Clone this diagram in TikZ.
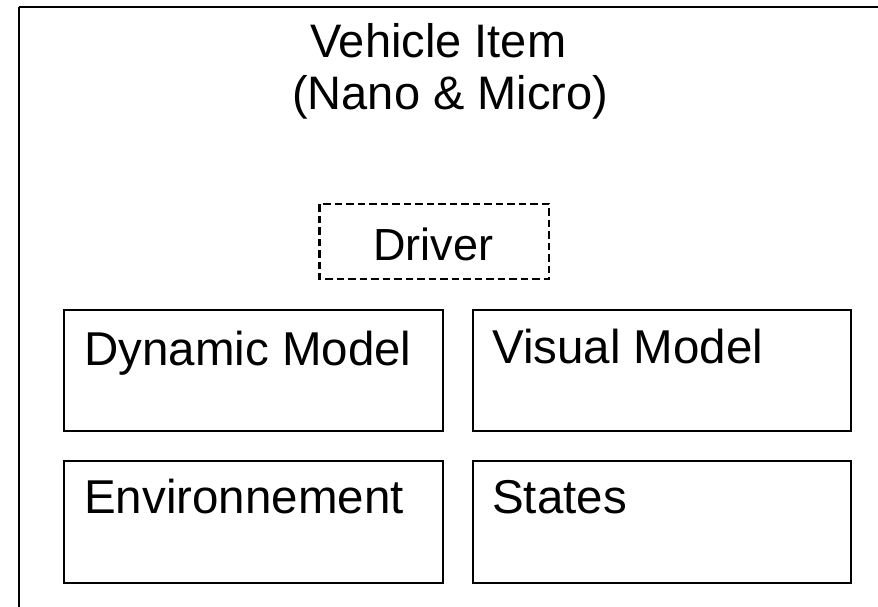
\documentclass[tikz,border=0pt]{standalone}
\usepackage{fontspec}
\setmainfont{Liberation Sans}
\begin{document}
\begin{tikzpicture}[x=1pt,y=-1pt,
  lbl/.style={anchor=base west,inner sep=0pt,font=\fontsize{47.5}{56}\selectfont},
  part/.style={draw=black,line width=2.2pt},
  drv/.style={draw=black,line width=2.8pt,dash pattern=on 7.5pt off 4pt}]
\useasboundingbox (0,0) rectangle (878,607);
\draw[line width=2.5pt] (19,7) -- (890,7);
\draw[line width=2.5pt] (19,7) -- (19,620);
\draw[line width=2.5pt] (19,620) -- (890,620);
\node[lbl,font=\fontsize{47}{56}\selectfont] (t1) at (310,58) {Vehicle Item};
\node[lbl,font=\fontsize{47}{56}\selectfont] (t2) at (292,110) {(Nano \& Micro)};
\draw[drv] (319.5,204) rectangle (549,279);
\node[lbl,font=\fontsize{45}{54}\selectfont] (drv) at (373,260) {Driver};
\draw[part] (64,310) rectangle (443,431);
\node[lbl] (dyn) at (84,365) {Dynamic Model};
\draw[part] (473,310) rectangle (851,431);
\node[lbl] (vis) at (492,363) {Visual Model};
\draw[part] (64,461) rectangle (443,583);
\node[lbl] (env) at (84,513) {Environnement};
\draw[part] (473,461) rectangle (851,583);
\node[lbl] (sta) at (492,513) {States};
\end{tikzpicture}
\end{document}
